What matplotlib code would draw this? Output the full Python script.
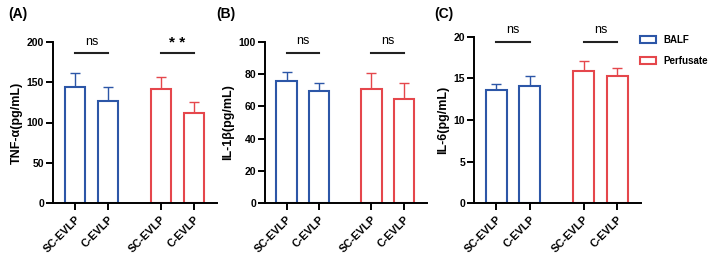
import matplotlib
matplotlib.use("Agg")
import matplotlib.pyplot as plt
from matplotlib.patches import Patch
import numpy as np

plt.rcParams['font.family'] = ['Liberation Sans', 'DejaVu Sans']

groups = ["SC-EVLP", "C-EVLP", "SC-EVLP", "C-EVLP"]
series = ["BALF", "Perfusate"]

tnf_mean = [144, 127, 141, 112]
tnf_err = [17, 17, 15, 14]
il1b_mean = [76, 69.8, 70.8, 64.8]
il1b_err = [5.6, 4.7, 10.2, 9.5]
il6_mean = [13.6, 14.15, 15.9, 15.3]
il6_err = [0.7, 1.15, 1.15, 1.0]

ylabels = ["TNF-α(pg/mL)", "IL-1β(pg/mL)", "IL-6(pg/mL)"]
ylims = [200, 100, 20]
yticks = [[0, 50, 100, 150, 200], [0, 20, 40, 60, 80, 100], [0, 5, 10, 15, 20]]
sig_labels = [["ns", "* *"], ["ns", "ns"], ["ns", "ns"]]
sig_heights = [186, 93.4, 19.4]
panel_labels = ["(A)", "(B)", "(C)"]

blue = "#2c56a7"
red = "#e5474c"
colors = [blue, blue, red, red]
positions = [0, 1, 2.6, 3.6]

W, H = 709, 259
fig = plt.figure(figsize=(W / 100, H / 100), dpi=100)

# axes boxes in pixels: left, right, top, bottom
boxes = [(53, 217, 42, 203), (265, 427, 42, 203), (474, 641, 37, 203)]
label_x = [8, 216, 434]

means = [tnf_mean, il1b_mean, il6_mean]
errs = [tnf_err, il1b_err, il6_err]

for i in range(3):
    l, r, t, b = boxes[i]
    ax = fig.add_axes([l / W, (H - b) / H, (r - l) / W, (b - t) / H])
    for p, m, e, c in zip(positions, means[i], errs[i], colors):
        ax.bar(p, m, width=0.62, facecolor="white", edgecolor=c, linewidth=1.5, zorder=2)
        ax.errorbar(p, m, yerr=[[0], [e]], color=c, capsize=3.5, elinewidth=1.0,
                    capthick=1.0, zorder=1)
    ax.set_xlim(-0.66, 4.3)
    ax.set_ylim(0, ylims[i])
    ax.set_yticks(yticks[i])
    ax.set_xticks(positions)
    ax.set_xticklabels(groups, rotation=45, ha="right", rotation_mode="anchor",
                       fontsize=7.8, fontweight="bold")
    for lab in ax.get_yticklabels():
        lab.set_fontweight("bold")
        lab.set_fontsize(7.5)
    ax.set_ylabel(ylabels[i], fontsize=9, fontweight="bold", labelpad=3)
    for s in ["top", "right"]:
        ax.spines[s].set_visible(False)
    for s in ["left", "bottom"]:
        ax.spines[s].set_linewidth(1.4)
    ax.tick_params(axis="both", width=1.4, length=5, pad=1.5)
    ax.tick_params(axis="x", pad=3)
    # significance
    for j, (x0, x1) in enumerate([(positions[0], positions[1]), (positions[2], positions[3])]):
        h = sig_heights[i]
        ax.plot([x0, x1], [h, h], color="#222222", lw=1.5, clip_on=False)
        lab = sig_labels[i][j]
        if lab.startswith("*"):
            ax.text((x0 + x1) / 2, h + ylims[i] * 0.02, lab, ha="center", va="bottom",
                    fontsize=11, fontweight="bold", clip_on=False)
        else:
            ax.text((x0 + x1) / 2, h + ylims[i] * 0.035, lab, ha="center", va="bottom",
                    fontsize=9, clip_on=False)
    fig.text(label_x[i] / W, (H - 14) / H, panel_labels[i], fontsize=10,
             fontweight="bold", va="center", ha="left")
    if i == 2:
        handles = [Patch(facecolor="white", edgecolor=blue, linewidth=1.5),
                   Patch(facecolor="white", edgecolor=red, linewidth=1.5)]
        fig.legend(handles, series, loc="upper left",
                   bbox_to_anchor=(636 / W, (H - 31) / H), frameon=False,
                   prop={"size": 7, "weight": "bold"}, handlelength=1.7,
                   handleheight=0.75, labelspacing=1.1, handletextpad=0.7,
                   borderaxespad=0)

fig.savefig("out.png", dpi=100)
